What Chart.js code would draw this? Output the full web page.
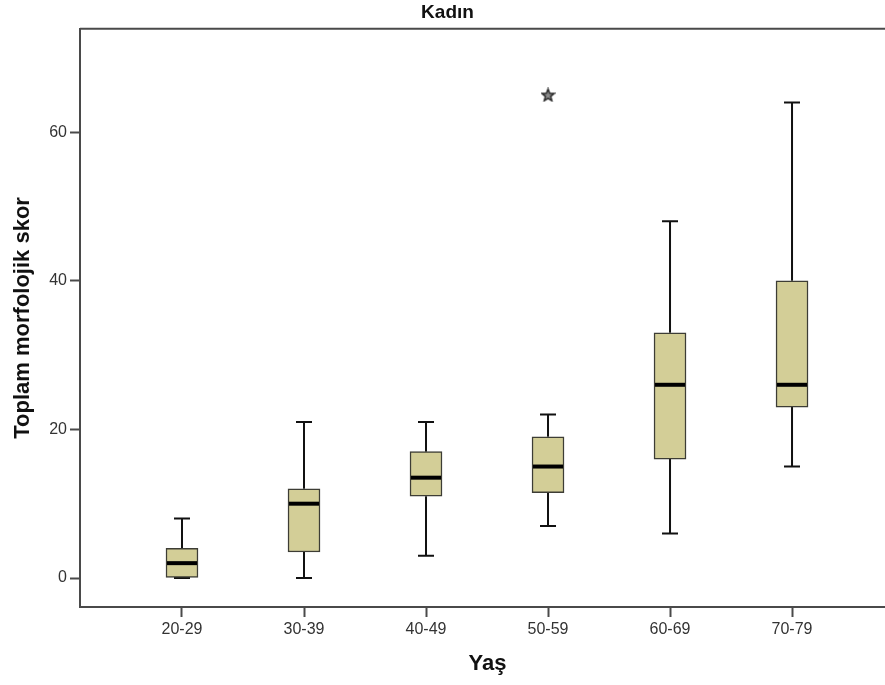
<!DOCTYPE html>
<html>
<head>
    <title>Kadın - Toplam morfolojik skor</title>
    <script src="https://cdn.jsdelivr.net/npm/chart.js"></script>
    <style>
        body {
            margin: 0;
            background-color: white;
            overflow: hidden;
        }
        .chart-box {
            width: 895px;
            height: 685px;
        }
    </style>
</head>
<body>
    <div class="chart-box">
        <canvas id="boxChart"></canvas>
    </div>

    <script>
        // Age groups and box plot statistics per group
        const ageGroups = ['20-29', '30-39', '40-49', '50-59', '60-69', '70-79'];
        const whiskerLow = [0, 0, 3, 7, 6, 15];
        const q1 = [0, 3.5, 11, 11.5, 16, 23];
        const median = [2, 10, 13.5, 15, 26, 26];
        const q3 = [4, 12, 17, 19, 33, 40];
        const whiskerHigh = [8, 21, 21, 22, 48, 64];
        const extremeGroup = [3];
        const extremeValue = [65];
        const yTicks = [0, 20, 40, 60];

        const fontFamily = "Arial, 'Liberation Sans', sans-serif";
        const axisColor = '#4a4a4a';
        const boxFill = 'rgb(211, 206, 151)';
        const boxWidth = 32;
        const capWidth = 16;

        // small five-pointed star used for the extreme value
        function makeStar() {
            const c = document.createElement('canvas');
            c.width = 15;
            c.height = 15;
            const g = c.getContext('2d');
            g.beginPath();
            for (let k = 0; k < 10; k++) {
                const r = k % 2 === 0 ? 6.5 : 2.8;
                const a = -Math.PI / 2 + k * Math.PI / 5;
                const px = 7.5 + r * Math.cos(a);
                const py = 8 + r * Math.sin(a);
                if (k === 0) g.moveTo(px, py); else g.lineTo(px, py);
            }
            g.closePath();
            g.fillStyle = '#8c8c8c';
            g.fill();
            g.strokeStyle = '#222';
            g.lineWidth = 1.4;
            g.stroke();
            return c;
        }

        // whiskers, caps, medians and the top frame line
        const boxExtras = {
            id: 'boxExtras',
            beforeDatasetsDraw(chart) {
                const {ctx, chartArea, scales: {x, y}} = chart;
                ctx.save();
                ctx.strokeStyle = axisColor;
                ctx.lineWidth = 2;
                ctx.beginPath();
                ctx.moveTo(chartArea.left, chartArea.top);
                ctx.lineTo(chartArea.right, chartArea.top);
                ctx.stroke();

                ctx.strokeStyle = '#111';
                ctx.lineWidth = 2;
                ageGroups.forEach((g, i) => {
                    const cx = x.getPixelForValue(i);
                    const lo = y.getPixelForValue(whiskerLow[i]);
                    const hi = y.getPixelForValue(whiskerHigh[i]);
                    const bottom = y.getPixelForValue(q1[i]);
                    const top = y.getPixelForValue(q3[i]);
                    ctx.beginPath();
                    ctx.moveTo(cx, hi);
                    ctx.lineTo(cx, top);
                    ctx.moveTo(cx, lo);
                    ctx.lineTo(cx, bottom);
                    ctx.moveTo(cx - capWidth / 2, hi);
                    ctx.lineTo(cx + capWidth / 2, hi);
                    ctx.moveTo(cx - capWidth / 2, lo);
                    ctx.lineTo(cx + capWidth / 2, lo);
                    ctx.stroke();
                });
                ctx.restore();
            },
            afterDatasetsDraw(chart) {
                const {ctx, scales: {x, y}} = chart;
                ctx.save();
                ctx.strokeStyle = '#000';
                ctx.lineWidth = 4;
                ageGroups.forEach((g, i) => {
                    const cx = x.getPixelForValue(i);
                    const my = y.getPixelForValue(median[i]);
                    ctx.beginPath();
                    ctx.moveTo(cx - boxWidth / 2 + 1, my);
                    ctx.lineTo(cx + boxWidth / 2 - 1, my);
                    ctx.stroke();
                });
                ctx.restore();
            }
        };

        const ctx = document.getElementById('boxChart').getContext('2d');

        const boxChart = new Chart(ctx, {
            type: 'bar',
            data: {
                datasets: [{
                    label: 'Kutu',
                    data: ageGroups.map((g, i) => ({x: i, y: [q1[i], q3[i]]})),
                    backgroundColor: boxFill,
                    borderColor: '#3d3d35',
                    borderWidth: 1.5,
                    borderSkipped: false,
                    barThickness: boxWidth
                }, {
                    type: 'scatter',
                    label: 'Uç değer',
                    data: extremeGroup.map((gi, k) => ({x: gi, y: extremeValue[k]})),
                    pointStyle: makeStar(),
                    pointRadius: 7
                }]
            },
            options: {
                responsive: true,
                maintainAspectRatio: false,
                animation: false,
                layout: { padding: 0, autoPadding: false },
                plugins: {
                    legend: { display: false },
                    tooltip: { enabled: false },
                    title: {
                        display: true,
                        text: 'Kadın',
                        color: '#111',
                        font: { family: fontFamily, size: 19, weight: 'bold' },
                        padding: { top: 1, bottom: 5 }
                    }
                },
                scales: {
                    x: {
                        type: 'linear',
                        offset: false,
                        min: -0.836,
                        max: 5.844,
                        afterFit(scale) { scale.height = 78; },
                        afterBuildTicks(scale) {
                            scale.ticks = ageGroups.map((g, i) => ({value: i}));
                        },
                        ticks: {
                            color: '#333',
                            padding: 3,
                            maxRotation: 0,
                            autoSkip: false,
                            font: { family: fontFamily, size: 16 },
                            callback: (v) => ageGroups[v]
                        },
                        grid: {
                            offset: false,
                            drawOnChartArea: false,
                            tickLength: 10,
                            tickColor: axisColor,
                            tickWidth: 2
                        },
                        border: { display: true, color: axisColor, width: 2 },
                        title: {
                            display: true,
                            text: 'Yaş',
                            color: '#111',
                            font: { family: fontFamily, size: 22, weight: 'bold' },
                            padding: { top: 0, bottom: 8 }
                        }
                    },
                    y: {
                        min: -3.9,
                        max: 73.9,
                        afterFit(scale) { scale.width = 80; },
                        afterBuildTicks(scale) {
                            scale.ticks = yTicks.map(v => ({value: v}));
                        },
                        ticks: {
                            color: '#333',
                            padding: 3,
                            font: { family: fontFamily, size: 16 }
                        },
                        grid: {
                            drawOnChartArea: false,
                            tickLength: 10,
                            tickColor: axisColor,
                            tickWidth: 2
                        },
                        border: { display: true, color: axisColor, width: 2 },
                        title: {
                            display: true,
                            text: 'Toplam morfolojik skor',
                            color: '#111',
                            font: { family: fontFamily, size: 22, weight: 'bold' },
                            padding: { top: 10, bottom: 0 }
                        }
                    }
                }
            },
            plugins: [boxExtras]
        });
    </script>
</body>
</html>
